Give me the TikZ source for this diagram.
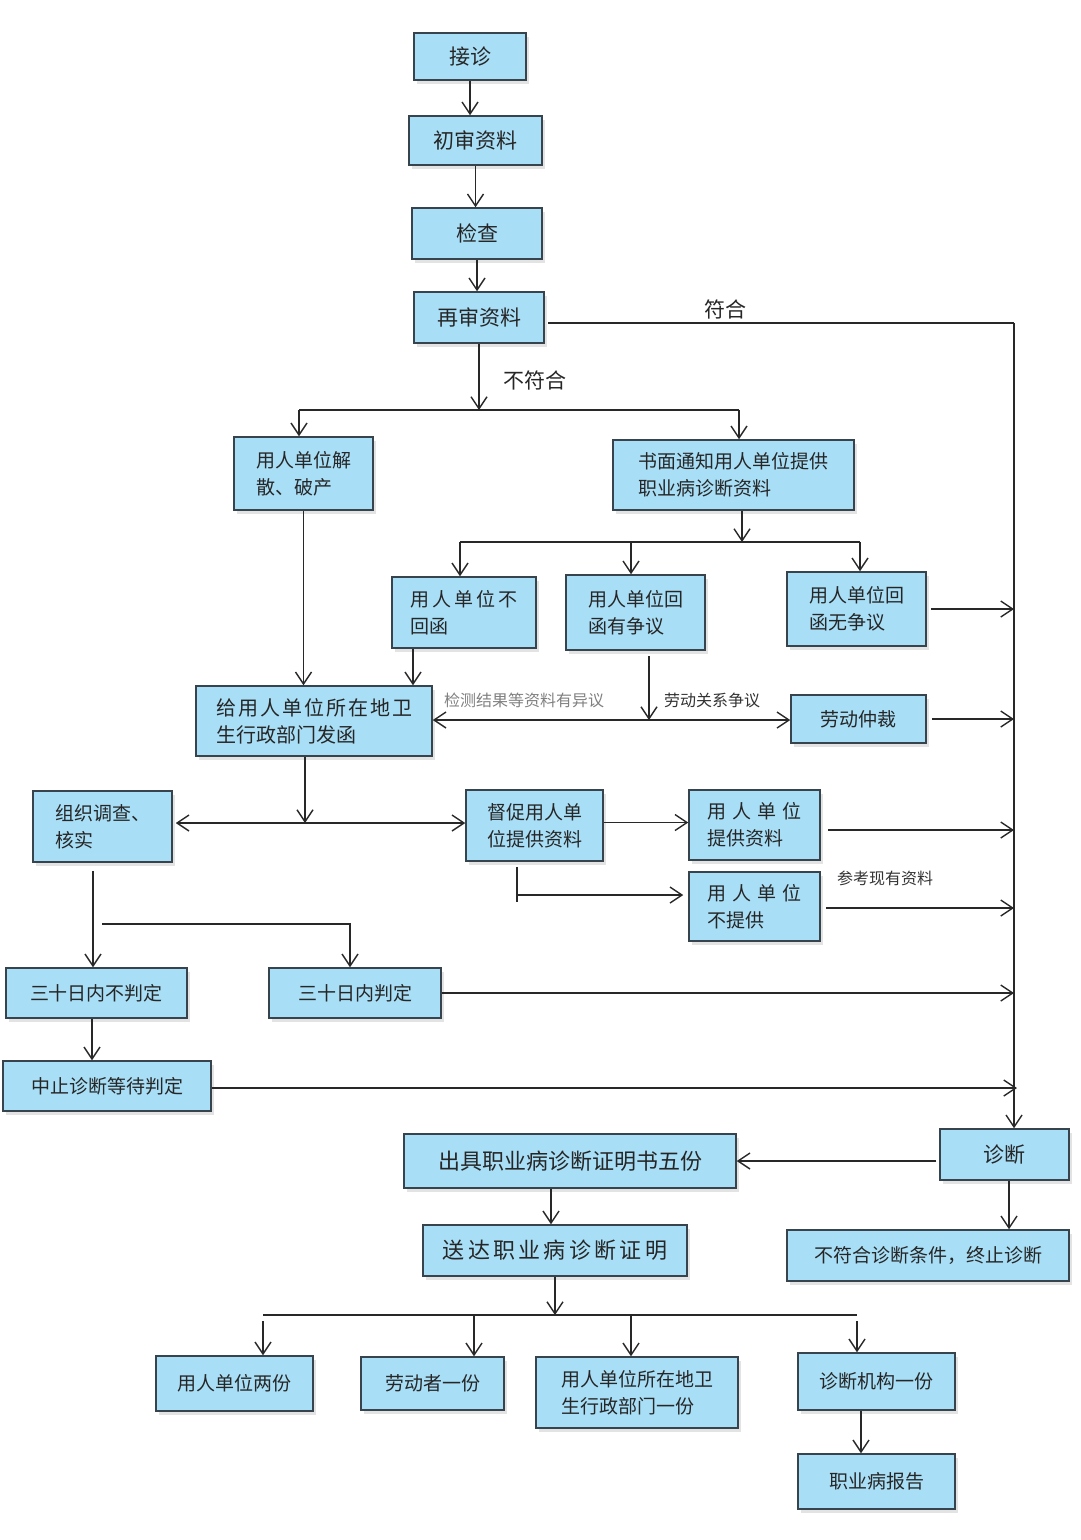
\documentclass[tikz,border=0pt]{standalone}
\usepackage{fontspec}
\setmainfont{Noto Sans CJK SC}
\usetikzlibrary{arrows.meta,shadows}
\definecolor{boxfill}{RGB}{168,222,246}
\definecolor{boxline}{RGB}{55,68,78}
\definecolor{conncol}{RGB}{40,40,40}
\newcommand\fsA{\fontsize{21}{27}\selectfont}
\newcommand\fsB{\fontsize{19}{27}\selectfont}
\newcommand\fsC{\fontsize{16}{20}\selectfont}
\begin{document}
\begin{tikzpicture}[x=1pt,y=-1pt,
  box/.style={draw=boxline, line width=1.5pt, fill=boxfill, inner sep=2pt, align=left,
    font=\fsB, text=black!85,
    drop shadow={shadow xshift=3pt, shadow yshift=-4pt, opacity=0.22}},
  big/.style={box, font=\fsA},
  arr/.style={-{Straight Barb[length=12pt,width=16pt]}},
  lbl/.style={font=\fsC, text=black!80, inner sep=1pt}]
\useasboundingbox (0,0) rectangle (1080,1540);

% nodes
\node[big, minimum width=112pt, minimum height=47pt] (jz) at (470,56.5) {接诊};
\node[big, minimum width=133pt, minimum height=49pt] (cs) at (475.5,140.5) {初审资料};
\node[big, minimum width=130pt, minimum height=51pt] (jc) at (477,233.5) {检查};
\node[big, minimum width=130pt, minimum height=51pt] (zs) at (479,317.5) {再审资料};
\node[box, minimum width=139pt, minimum height=73pt] (js) at (303.5,473.5) {用人单位解\\散、破产};
\node[box, minimum width=241pt, minimum height=70pt] (sm) at (733.5,475) {书面通知用人单位提供\\职业病诊断资料};
\node[box, minimum width=144pt, minimum height=71pt] (bhh) at (464,612.5) {\addfontfeatures{LetterSpace=15}用人单位不\\回函};
\node[box, minimum width=139pt, minimum height=75pt] (yzy) at (635.5,612.5) {用人单位回\\函有争议};
\node[box, minimum width=139pt, minimum height=74pt] (wzy) at (856.5,609) {用人单位回\\函无争议};
\node[box, font=\fontsize{20}{27}\selectfont, minimum width=236pt, minimum height=70pt] (fh) at (314,721) {\addfontfeatures{LetterSpace=10}给用人单位所在地卫\\生行政部门发函};
\node[box, minimum width=135pt, minimum height=48pt] (ldzc) at (858.5,719) {劳动仲裁};
\node[box, minimum width=139pt, minimum height=71pt] (zz) at (102.5,826.5) {组织调查、\\核实};
\node[box, minimum width=137pt, minimum height=71pt] (dc) at (534.5,825.5) {督促用人单\\位提供资料};
\node[box, minimum width=131pt, minimum height=70pt] (tg) at (754.5,825) {用\hspace{0.33em}人\hspace{0.33em}单\hspace{0.33em}位\\提供资料};
\node[box, minimum width=131pt, minimum height=69pt] (btg) at (754.5,906.5) {用\hspace{0.33em}人\hspace{0.33em}单\hspace{0.33em}位\\不提供};
\node[box, minimum width=181pt, minimum height=50pt] (bpd) at (96.5,993) {三十日内不判定};
\node[box, minimum width=172pt, minimum height=50pt] (pd) at (355,993) {三十日内判定};
\node[box, minimum width=208pt, minimum height=50pt] (zzd) at (107,1086) {中止诊断等待判定};
\node[big, font=\fontsize{22}{27}\selectfont, minimum width=332pt, minimum height=54pt] (cj) at (570,1161) {出具职业病诊断证明书五份};
\node[big, minimum width=129pt, minimum height=51pt] (zd) at (1004.5,1154.5) {诊断};
\node[big, font=\fontsize{22}{27}\selectfont, minimum width=264pt, minimum height=51pt] (sd) at (555,1250.5) {\addfontfeatures{LetterSpace=15}送达职业病诊断证明};
\node[box, minimum width=282pt, minimum height=51pt] (bfh) at (928,1255.5) {不符合诊断条件，终止诊断};
\node[box, minimum width=157pt, minimum height=55pt] (lf) at (234.5,1383.5) {用人单位两份};
\node[box, minimum width=143pt, minimum height=53pt] (ldz) at (432.5,1383.5) {劳动者一份};
\node[box, minimum width=202pt, minimum height=71pt] (wsbm) at (637,1392.5) {用人单位所在地卫\\生行政部门一份};
\node[box, minimum width=157pt, minimum height=57pt] (zdjg) at (876.5,1381.5) {诊断机构一份};
\node[box, minimum width=157pt, minimum height=55pt] (zybg) at (876.5,1481.5) {职业病报告};

% junction coordinates
\coordinate (rtop) at (1014,323);
\coordinate (j1) at (479,410);
\coordinate (jL) at (299,410);
\coordinate (jR) at (739,410);
\coordinate (j2) at (742,542);
\coordinate (j2L) at (460,542);
\coordinate (j2M) at (631,542);
\coordinate (j2R) at (860,542);
\coordinate (j3) at (649,720);
\coordinate (j4) at (305,823);
\coordinate (j5) at (517,895);
\coordinate (j5b) at (517,902);
\coordinate (j6) at (102,924);
\coordinate (j7) at (350,924);
\coordinate (j8) at (555,1315);
\coordinate (j8L) at (263,1315);
\coordinate (j8R) at (857,1315);
\coordinate (j8a) at (474,1315);
\coordinate (j8b) at (631,1315);

\begin{scope}[draw=conncol, line width=1.4pt]
\draw[arr] (jz.south) -- (jz.south |- cs.north);
\draw[arr] (cs.south) -- (cs.south |- jc.north);
\draw[arr] (jc.south) -- (jc.south |- zs.north);
% 符合
\draw ([yshift=-5.5pt,xshift=3pt]zs.east) -- (rtop);
\draw[arr] (rtop) -- (rtop |- zd.north);
% 不符合
\draw[arr] (zs.south) -- (j1);
\draw (jL) -- (jR);
\draw[arr] (jL) -- (jL |- js.north);
\draw[arr] (jR) -- (jR |- sm.north);
% 书面通知
\draw[arr] (sm.south -| j2) -- (j2);
\draw (j2L) -- (j2R);
\draw[arr] (j2L) -- (j2L |- bhh.north);
\draw[arr] (j2M) -- (j2M |- yzy.north);
\draw[arr] (j2R) -- (j2R |- wzy.north);
% to 发函
\draw[arr] (js.south) -- (js.south |- fh.north);
\draw[arr] ([xshift=-51pt]bhh.south) -- ([xshift=-51pt]bhh.south |- fh.north);
\draw[arr] ([xshift=13.5pt,yshift=-5pt]yzy.south) -- (j3);
\draw[arr] (j3) -- (j3 -| fh.east);
\draw[arr] (j3) -- (j3 -| ldzc.west);
\draw[arr] ([xshift=4pt]wzy.east) -- (wzy.east -| rtop);
\draw[arr] ([xshift=5pt]ldzc.east) -- (ldzc.east -| rtop);
% 发函 down
\draw[arr] ([xshift=-9pt]fh.south) -- (j4);
\draw[arr] (j4) -- ([xshift=3pt]j4 -| zz.east);
\draw[arr] (j4) -- (j4 -| dc.west);
\draw[arr] ([yshift=3pt]dc.east) -- ([yshift=3pt]dc.east -| tg.west);
\draw ([xshift=-17.5pt,yshift=-5pt]dc.south) -- (j5b);
\draw[arr] (j5) -- ([xshift=-5pt]j5 -| btg.west);
\draw[arr] ([xshift=7pt,yshift=-5pt]tg.east) -- ([yshift=-5pt]tg.east -| rtop);
\draw[arr] ([xshift=5pt,yshift=-1.5pt]btg.east) -- ([yshift=-1.5pt]btg.east -| rtop);
% 组织调查
\draw[arr] ([xshift=-9.5pt,yshift=-8pt]zz.south) -- ([xshift=-9.5pt]zz.south |- bpd.north);
\draw[arr] (j6) -- (j7) -- (j7 |- pd.north);
\draw[arr] (pd.east) -- (pd.east -| rtop);
\draw[arr] ([xshift=-4.5pt]bpd.south) -- ([xshift=-4.5pt]bpd.south |- zzd.north);
\draw[arr] ([yshift=-2pt]zzd.east) -- ([yshift=-2pt,xshift=3pt]zzd.east -| rtop);
% 诊断
\draw[arr] ([xshift=-3pt]zd.west |- cj.east) -- (cj.east);
\draw[arr] ([xshift=4.5pt]zd.south) -- ([xshift=4.5pt]zd.south |- bfh.north);
\draw[arr] ([xshift=-19pt]cj.south) -- ([xshift=-19pt]cj.south |- sd.north);
\draw[arr] (sd.south) -- (j8);
\draw (j8L) -- (j8R);
\draw[arr] ([yshift=-6pt]j8L) -- (j8L |- lf.north);
\draw[arr] (j8a) -- (j8a |- ldz.north);
\draw[arr] (j8b) -- (j8b |- wsbm.north);
\draw[arr] ([yshift=-6pt]j8R) -- (j8R |- zdjg.north);
\draw[arr] ([xshift=-15.5pt]zdjg.south) -- ([xshift=-15.5pt]zdjg.south |- zybg.north);
\end{scope}

% labels
\node[font=\fsA, text=black!85] at (725,309) {符合};
\node[font=\fsA, text=black!85] at (535,380) {不符合};
\node[lbl, text=black!50] at (524,700) {检测结果等资料有异议};
\node[lbl] at (712,700) {劳动关系争议};
\node[lbl] at (885,878) {参考现有资料};
\end{tikzpicture}
\end{document}
